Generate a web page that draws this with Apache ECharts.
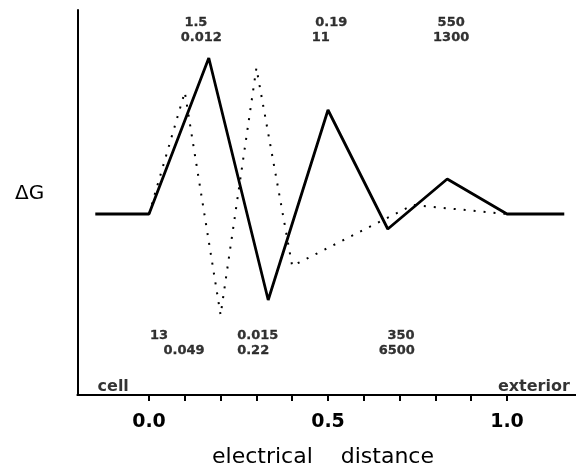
<!DOCTYPE html>
<html>
<head>
<meta charset="utf-8">
<script src="https://cdn.jsdelivr.net/npm/echarts@6/dist/echarts.min.js"></script>
<style>html,body{margin:0;padding:0;background:#fff}#c{width:576px;height:468px}</style>
</head>
<body>
<div id="c"></div>
<script>
// Solid profile
var solidX = [-0.15, 0, 0.167, 0.333, 0.5, 0.667, 0.833, 1.0, 1.16];
var solidY = [0, 0, 1.56, -0.86, 1.04, -0.15, 0.35, 0, 0];
// Dotted profile
var dottedX = [0, 0.1, 0.2, 0.3, 0.4, 0.737, 1.0];
var dottedY = [0, 1.22, -1.01, 1.46, -0.52, 0.09, 0];
// Annotation texts and their data positions
var annotTexts = ["1.5", "0.012", "0.19", "11", "550", "1300", "13", "0.049", "0.015", "0.22", "350", "6500", "cell", "exterior"];
var annotX = [0.131, 0.146, 0.509, 0.48, 0.844, 0.844, 0.028, 0.098, 0.304, 0.291, 0.704, 0.692, -0.10, 1.075];
var annotY = [1.91, 1.76, 1.91, 1.76, 1.91, 1.76, -1.22, -1.37, -1.22, -1.37, -1.22, -1.37, -1.73, -1.73];
// Axis ticks and labels
var tickValues = [0, 0.1, 0.2, 0.3, 0.4, 0.5, 0.6, 0.7, 0.8, 0.9, 1.0];
var labelValues = [0, 0.5, 1.0];

function zip(a, b) { return a.map(function (v, i) { return [v, b[i]]; }); }

var annotData = annotTexts.map(function (t, i) {
  var isWord = isNaN(parseFloat(t));
  return {
    value: [annotX[i], annotY[i]],
    label: isWord ? { fontSize: 16, textBorderWidth: 0 } : {}
  };
});

var chart = echarts.init(document.getElementById('c'));
chart.setOption({
  animation: false,
  backgroundColor: '#fff',
  grid: { left: 77.4, right: -2.6, top: 10, bottom: 73, outerBoundsMode: 'none', containLabel: false },
  xAxis: {
    type: 'value', min: -0.2, max: 1.2,
    axisLine: { show: true, onZero: false, lineStyle: { color: '#000', width: 2 } },
    axisTick: { show: true, customValues: tickValues, length: 6, inside: false, lineStyle: { color: '#000', width: 2 } },
    axisLabel: { customValues: labelValues, formatter: function (v) { return v.toFixed(1); }, margin: 18,
      color: '#000', fontSize: 19, fontWeight: 'bold', fontFamily: 'DejaVu Sans' },
    splitLine: { show: false },
    name: 'electrical    distance', nameLocation: 'middle', nameGap: 51,
    nameTextStyle: { color: '#000', fontSize: 22, fontFamily: 'DejaVu Sans', padding: [0, 10, 0, 0] }
  },
  yAxis: {
    type: 'value', min: -1.81, max: 2.04,
    axisLine: { show: true, onZero: false, lineStyle: { color: '#000', width: 2 } },
    axisTick: { show: false }, axisLabel: { show: false }, splitLine: { show: false }
  },
  graphic: [{ type: 'text', left: 15, top: 184,
    style: { text: 'ΔG', fill: '#000', font: '20px "DejaVu Sans"' } }],
  series: [
    { type: 'line', data: zip(dottedX, dottedY), symbol: 'none',
      lineStyle: { color: '#000', width: 2, type: [2, 8] } },
    { type: 'line', data: zip(solidX, solidY), symbol: 'none',
      lineStyle: { color: '#000', width: 2.8 } },
    { type: 'scatter', data: annotData, symbolSize: 0,
      label: { show: true, position: 'inside', color: '#000', fontSize: 13, fontWeight: 'bold', fontFamily: 'DejaVu Sans',
        textBorderColor: '#000', textBorderWidth: 0.3,
        formatter: function (p) { return annotTexts[p.dataIndex]; } } }
  ]
});
</script>
</body>
</html>
